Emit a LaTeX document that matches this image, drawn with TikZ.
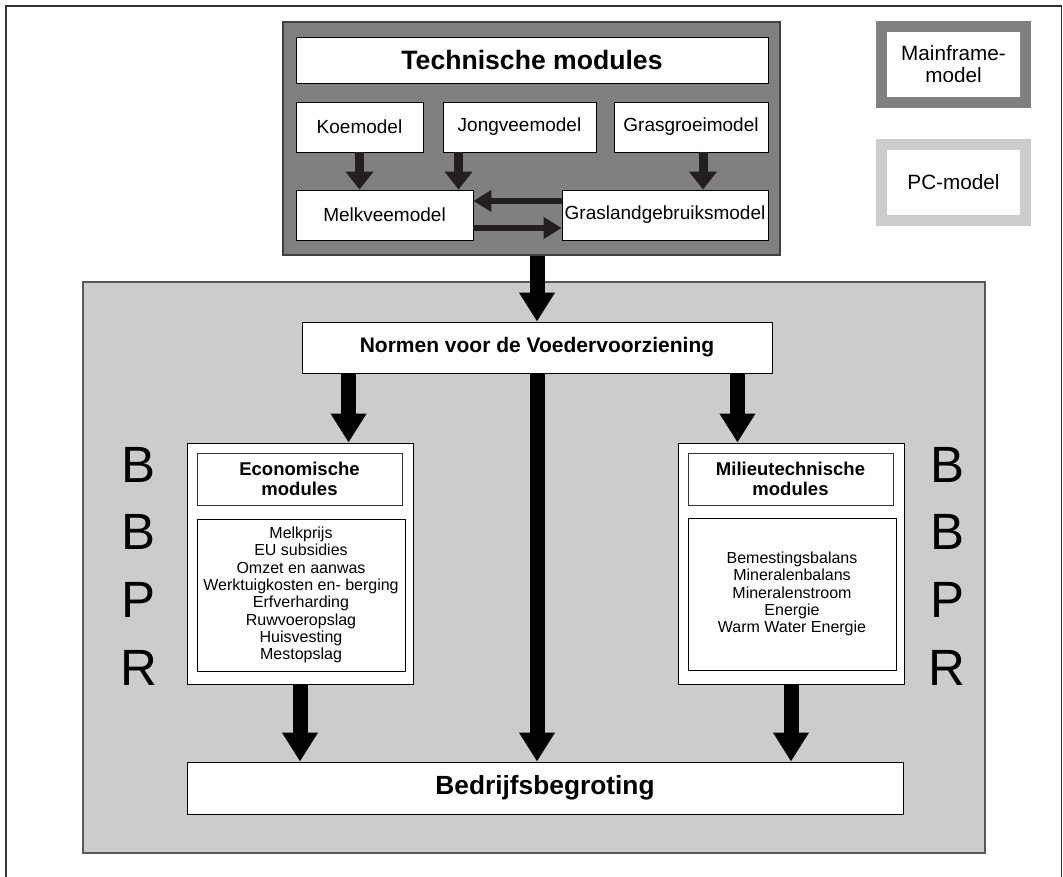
\documentclass[tikz,border=0pt]{standalone}
\usepackage{fontspec}
\setmainfont{Liberation Sans}
\usepackage{tikz}
\usetikzlibrary{arrows.meta}
\usepackage{xcolor}

\definecolor{mainframe}{HTML}{808080}
\definecolor{pcgray}{HTML}{CCCCCC}
\definecolor{arrowink}{HTML}{231F20}

\begin{document}
\begin{tikzpicture}[x=1pt, y=-1pt,
  region/.style={draw=black!75, line width=1.4pt, inner sep=0pt},
  box/.style={draw, fill=white, line width=0.9pt, align=center, inner sep=0pt,
              font=\fontsize{19}{22}\selectfont},
  headbox/.style={box, font=\bfseries\fontsize{26.6}{30}\selectfont},
  subhead/.style={box, draw=black!80, font=\bfseries\fontsize{18.5}{20}\selectfont},
  listbox/.style={box, font=\fontsize{16}{17.3}\selectfont},
  legend/.style={draw, fill=white, line width=11pt, align=center,
                 minimum width=144pt, minimum height=76pt,
                 font=\fontsize{20.7}{22}\selectfont},
  letter/.style={anchor=base, font=\fontsize{51}{51}\selectfont, inner sep=0pt},
  down/.style={-{Triangle[length=18pt, width=27pt]}, line width=9pt, draw=arrowink},
  side/.style={-{Triangle[length=18pt, width=21pt]}, line width=6pt, draw=arrowink},
  big/.style={-{Triangle[length=29pt, width=34pt]}, line width=15pt},
]
  \useasboundingbox (0,0) rectangle (1063,877);
  \draw[black!80, line width=1.5pt] (6,880) |- (1061.5,6) -- (1061.5,880);

  \node[legend, draw=mainframe] (mainframe) at (953.5,64.5)  {Mainframe-\\model};
  \node[legend, draw=pcgray]    (pcmodel)   at (953.5,182.5) {PC-model};

  \node[region, fill=mainframe, minimum width=497pt, minimum height=233pt] (tech) at (531.5,138.5) {};
  \node[headbox, minimum width=472pt, minimum height=46pt] (techtitle) at (532,60) {Technische modules};
  \node[box, minimum width=127pt, minimum height=50pt] (koe)       at (359.5,127) {Koemodel};
  \node[box, minimum width=153pt, minimum height=50pt] (jongvee)   at (519.5,127) {Jongveemodel};
  \node[box, minimum width=154pt, minimum height=50pt] (grasgroei) at (691,127)   {Grasgroeimodel};
  \node[box, minimum width=177pt, minimum height=50pt] (melkvee)   at (384.5,215) {Melkveemodel};
  \node[box, minimum width=206pt, minimum height=50pt] (grasland)  at (665,215)   {Graslandgebruiksmodel};

  \node[region, draw=black!65, fill=pcgray, minimum width=902pt, minimum height=571pt] (bedrijf) at (534,567.5) {};
  \node[box, minimum width=470pt, minimum height=51pt,
        font=\bfseries\fontsize{21}{24}\selectfont] (normen) at (537,347.5) {Normen voor de Voedervoorziening};

  \node[box, minimum width=226pt, minimum height=241pt] (econ)   at (300,563.5) {};
  \node[subhead, minimum width=205pt, minimum height=52pt] (econtitle) at (299.5,479) {Economische\\modules};
  \node[listbox, minimum width=208pt, minimum height=152pt] (econlist) at (301,595)
    {Melkprijs\\EU subsidies\\Omzet en aanwas\\Werktuigkosten en- berging\\Erfverharding\\Ruwvoeropslag\\Huisvesting\\Mestopslag};

  \node[box, minimum width=226pt, minimum height=241pt] (milieu) at (791,563.5) {};
  \node[subhead, minimum width=205pt, minimum height=52pt] (milieutitle) at (790.5,479) {Milieutechnische\\modules};
  \node[listbox, minimum width=208pt, minimum height=152pt] (milieulist) at (792,594)
    {Bemestingsbalans\\Mineralenbalans\\Mineralenstroom\\Energie\\Warm Water Energie};

  \node[headbox, font=\bfseries\fontsize{26.3}{30}\selectfont,
        minimum width=716pt, minimum height=52pt] (begroting) at (545,788) {Bedrijfsbegroting};

  \foreach \ltr/\name/\yy in {B/b1/482, B/b2/549, P/p/617, R/r/685} {
    \node[letter] (left\name)  at (139,\yy) {\ltr};
    \node[letter] (right\name) at (947,\yy) {\ltr};
  }

  \draw[down] (koe) -- (koe |- melkvee.north);
  \draw[down] ([xshift=16pt]jongvee.south west) -- ([xshift=16pt]jongvee.south west |- melkvee.north);
  \draw[down] ([xshift=12pt]grasgroei.south) -- ([xshift=12pt]grasgroei.south |- grasland.north);
  \draw[side] ([yshift=14pt]grasland.west) -- ([yshift=14pt]grasland.west -| melkvee.east);
  \draw[side] ([yshift=-13pt]melkvee.east) -- ([yshift=-13pt]melkvee.east -| grasland.west);

  \draw[big] (tech.south -| normen) -- (normen);
  \draw[big] ([xshift=47pt]normen.south west) -- ([xshift=47pt]normen.south west |- econ.north);
  \draw[big] ([xshift=-35pt]normen.south east) -- ([xshift=-35pt]normen.south east |- milieu.north);
  \draw[big] (normen) -- (normen |- begroting.north);
  \draw[big] (econ) -- (econ |- begroting.north);
  \draw[big] (milieu) -- (milieu |- begroting.north);
\end{tikzpicture}
\end{document}
